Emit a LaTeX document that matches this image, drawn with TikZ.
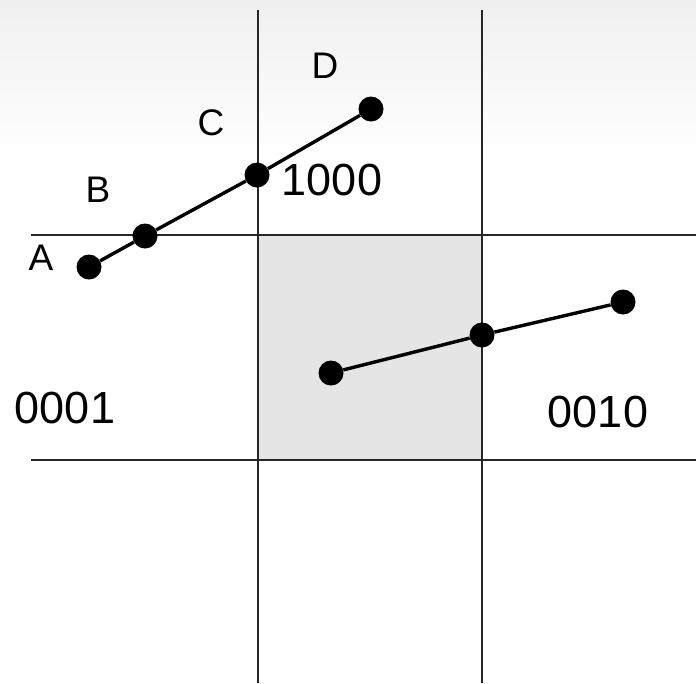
\documentclass[tikz,border=0pt]{standalone}
\usepackage{fontspec}
\setmainfont{Liberation Sans}
\begin{document}
\begin{tikzpicture}[x=1pt,y=-1pt,
  grid/.style={draw=black!85,line width=1.4pt},
  seg/.style={draw=black,line width=3.4pt},
  dot/.style={circle,fill=black,inner sep=0pt,minimum size=25pt},
  letter/.style={anchor=base,inner sep=0pt,font=\fontsize{37}{42}\selectfont},
  code/.style={anchor=base,inner sep=0pt,font=\fontsize{45}{50}\selectfont}]
\useasboundingbox (0,0) rectangle (696,683);
\shade[top color=black!6,bottom color=white] (0,0) rectangle (696,160);
\fill[black!10] (258,235) rectangle (482,460);
\coordinate (v1t) at (258,10); \coordinate (v1b) at (258,683);
\coordinate (v2t) at (482,10); \coordinate (v2b) at (482,683);
\coordinate (h1l) at (31,235); \coordinate (h1r) at (696,235);
\coordinate (h2l) at (31,460); \coordinate (h2r) at (696,460);
\draw[grid] (v1t) -- (v1b);
\draw[grid] (v2t) -- (v2b);
\draw[grid] (h1l) -- (h1r);
\draw[grid] (h2l) -- (h2r);
\node[dot] (A) at (89,267) {};
\node[dot] (B) at (145,236) {};
\node[dot] (C) at (257,175) {};
\node[dot] (D) at (371,109) {};
\node[dot] (P) at (331,373) {};
\node[dot] (Q) at (482,335) {};
\node[dot] (R) at (623,302) {};
\draw[seg] (A) -- (B) -- (C) -- (D);
\draw[seg] (P) -- (Q) -- (R);
\node[letter] (lA) at (41,270) {A};
\node[letter] (lB) at (98,202) {B};
\node[letter] (lC) at (211,135) {C};
\node[letter] (lD) at (325,78) {D};
\node[code] (c1000) at (332,195) {1000};
\node[code] (c0001) at (65,423) {0001};
\node[code] (c0010) at (598,427) {0010};
\end{tikzpicture}
\end{document}
